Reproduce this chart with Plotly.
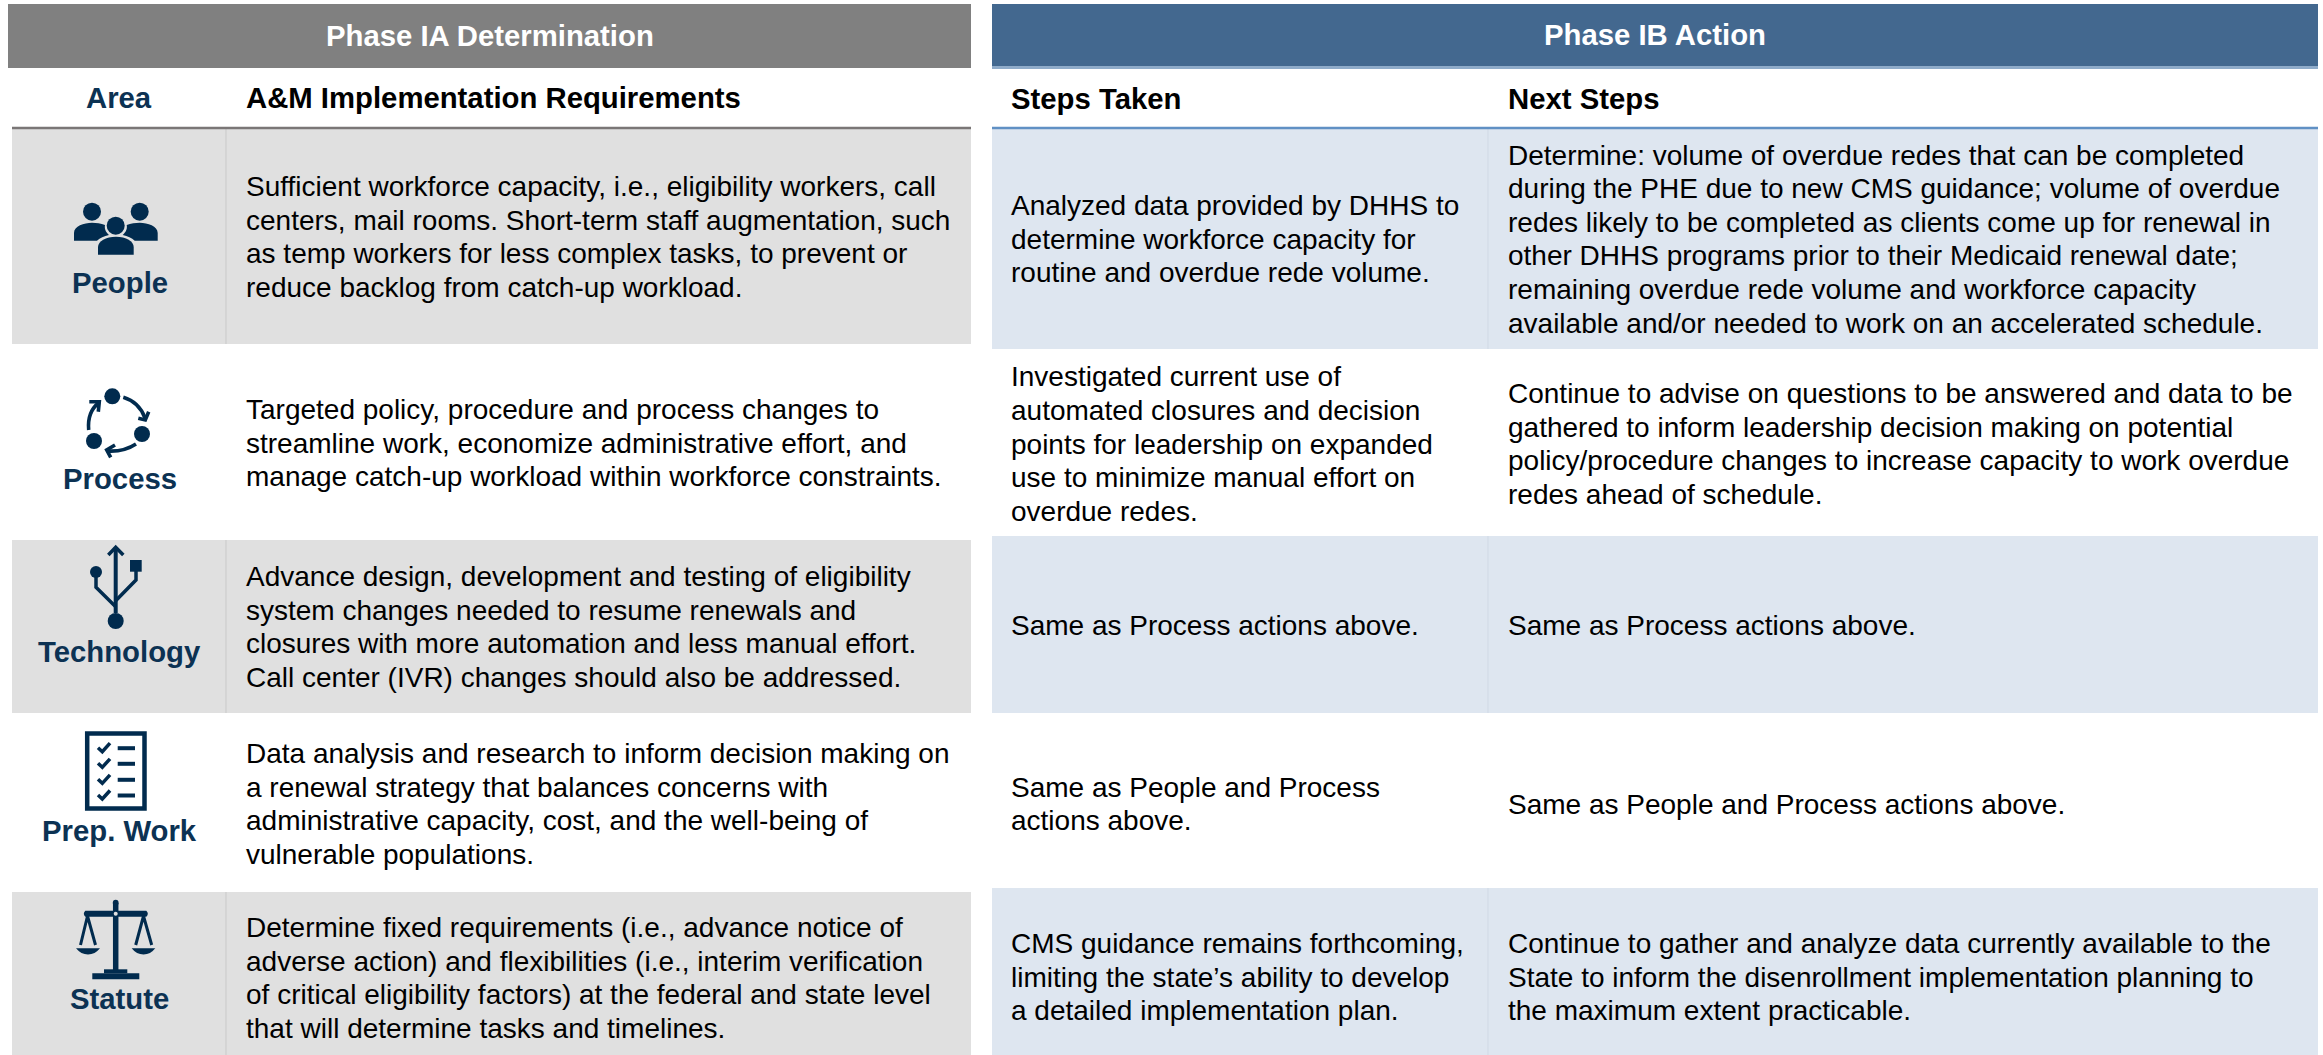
import plotly.graph_objects as go

# ---------- content ----------
phase_titles = ["Phase IA Determination", "Phase IB Action"]
column_heads = ["Area", "A&M Implementation Requirements", "Steps Taken", "Next Steps"]
areas = ["People", "Process", "Technology", "Prep. Work", "Statute"]
requirements = [
    "Sufficient workforce capacity, i.e., eligibility workers, call<br>centers, mail rooms. Short-term staff augmentation, such<br>as temp workers for less complex tasks, to prevent or<br>reduce backlog from catch-up workload.",
    "Targeted policy, procedure and process changes to<br>streamline work, economize administrative effort, and<br>manage catch-up workload within workforce constraints.",
    "Advance design, development and testing of eligibility<br>system changes needed to resume renewals and<br>closures with more automation and less manual effort.<br>Call center (IVR) changes should also be addressed.",
    "Data analysis and research to inform decision making on<br>a renewal strategy that balances concerns with<br>administrative capacity, cost, and the well-being of<br>vulnerable populations.",
    "Determine fixed requirements (i.e., advance notice of<br>adverse action) and flexibilities (i.e., interim verification<br>of critical eligibility factors) at the federal and state level<br>that will determine tasks and timelines.",
]
steps_taken = [
    "Analyzed data provided by DHHS to<br>determine workforce capacity for<br>routine and overdue rede volume.",
    "Investigated current use of<br>automated closures and decision<br>points for leadership on expanded<br>use to minimize manual effort on<br>overdue redes.",
    "Same as Process actions above.",
    "Same as People and Process<br>actions above.",
    "CMS guidance remains forthcoming,<br>limiting the state\u2019s ability to develop<br>a detailed implementation plan.",
]
next_steps = [
    "Determine: volume of overdue redes that can be completed<br>during the PHE due to new CMS guidance; volume of overdue<br>redes likely to be completed as clients come up for renewal in<br>other DHHS programs prior to their Medicaid renewal date;<br>remaining overdue rede volume and workforce capacity<br>available and/or needed to work on an accelerated schedule.",
    "Continue to advise on questions to be answered and data to be<br>gathered to inform leadership decision making on potential<br>policy/procedure changes to increase capacity to work overdue<br>redes ahead of schedule.",
    "Same as Process actions above.",
    "Same as People and Process actions above.",
    "Continue to gather and analyze data currently available to the<br>State to inform the disenrollment implementation planning to<br>the maximum extent practicable.",
]

# ---------- layout ----------
W, H = 2323, 1055
FONT = "Liberation Sans, Arial, sans-serif"
NAVY = "#012b4e"
LABEL = "#0c3253"
GRAY_ROW = "#e0e0e0"
BLUE_ROW = "#dee6f0"
BODY = 28
BOLD = 29.3
LINE_STEP = 33.6

left_edges = [129, 344, 540, 713, 892, 1055]
right_edges = [129, 349, 536, 713, 888, 1055]
label_y = [282.3, 478.3, 651.3, 830.5, 998.5]
req_y = [237, 443, 627, 804, 978]
step_y = [239, 444, 625, 804, 977]
next_y = [239, 444, 625, 804, 977]
X_REQ, X_STEP, X_NEXT = 245, 1010, 1507

shapes, annotations = [], []


def rect(x0, y0, x1, y1, fill):
    shapes.append(dict(type="rect", xref="x", yref="y", x0=x0, y0=y0, x1=x1, y1=y1,
                       fillcolor=fill, line_width=0, layer="below"))


def line(x0, y0, x1, y1, color, w):
    shapes.append(dict(type="line", xref="x", yref="y", x0=x0, y0=y0, x1=x1, y1=y1,
                       line=dict(color=color, width=w), layer="below"))


def text(x, y, s, size, color="#000000", bold=False, anchor="left"):
    annotations.append(dict(xref="x", yref="y", x=x, y=y, text=f"<b>{s}</b>" if bold else s,
                            showarrow=False, xanchor=anchor, yanchor="middle", align=anchor,
                            font=dict(family=FONT, size=size, color=color), borderpad=0))


def para(x, yc, s):
    parts = s.split("<br>")
    for k, part in enumerate(parts):
        text(x, yc + (k - (len(parts) - 1) / 2) * LINE_STEP, part, BODY)


def fill_path(d, color=NAVY):
    shapes.append(dict(type="path", xref="x", yref="y", path=d, fillcolor=color, line_width=0))


def stroke_path(d, w, color=NAVY):
    shapes.append(dict(type="path", xref="x", yref="y", path=d, fillcolor="rgba(0,0,0,0)",
                       line=dict(color=color, width=w)))


def circle(cx, cy, r, color=NAVY):
    shapes.append(dict(type="circle", xref="x", yref="y", x0=cx - r, y0=cy - r, x1=cx + r, y1=cy + r,
                       fillcolor=color, line_width=0))


# phase bars
rect(8, 4, 971, 68, "#808080")
rect(992, 4, 2318, 66, "#43688f")
rect(992, 66, 2318, 69, "#8fabc9")
text(489.5, 35, phase_titles[0], BOLD, "#ffffff", True, "center")
text(1655, 34.5, phase_titles[1], BOLD, "#ffffff", True, "center")

# column heads
text(119, 97, column_heads[0], BOLD, LABEL, True, "center")
text(X_REQ, 97, column_heads[1], BOLD, "#000000", True)
text(X_STEP, 98, column_heads[2], BOLD, "#000000", True)
text(X_NEXT, 98, column_heads[3], BOLD, "#000000", True)

# rows
for i in range(5):
    if i % 2 == 0:
        rect(12, left_edges[i], 971, left_edges[i + 1], GRAY_ROW)
        line(226, left_edges[i], 226, left_edges[i + 1], "#c9c9c9", 1)
        rect(992, right_edges[i], 2318, right_edges[i + 1], BLUE_ROW)
        line(1488, right_edges[i], 1488, right_edges[i + 1], "#d0d9e5", 1)
    text(119.5, label_y[i], areas[i], BOLD, LABEL, True, "center")
    para(X_REQ, req_y[i], requirements[i])
    para(X_STEP, step_y[i], steps_taken[i])
    para(X_NEXT, next_y[i], next_steps[i])

line(12, 128, 971, 128, "#7a7676", 2.5)
line(992, 128, 2318, 128, "#6090c4", 2.5)

# --- icon: people
circle(92, 211.7, 9)
circle(139.7, 211.7, 9)
circle(115.7, 225.7, 9)
fill_path("M74,240.7 V233 C74,226 84,222.7 92,222.7 C96,222.7 101,223.5 105,225 C104,230 107,233 109,235 C104,236 100,238 97,240.7 Z")
fill_path("M157.7,240.7 V233 C157.7,226 147.7,222.7 139.7,222.7 C135.7,222.7 130.7,223.5 126.7,225 C127.7,230 124.7,233 122.7,235 C127.7,236 131.7,238 134.7,240.7 Z")
fill_path("M98,254.7 V247 C98,241 106,236.7 116,236.7 C126,236.7 133.7,241 133.7,247 V254.7 Z")

# --- icon: process
circle(112.3, 396.3, 8)
circle(142, 434, 8)
circle(94, 441, 8)
stroke_path("M123.3,397.3 Q139,402 145,418", 3.6)
stroke_path("M138.3,418.3 L145.3,420 L148.7,411.7", 3.6)
stroke_path("M136,444 Q124,452 107.3,451", 3.6)
stroke_path("M115,445 L106.7,450 L110.7,457.3", 3.6)
stroke_path("M88.7,430 Q87,412 99,402.5", 3.6)
stroke_path("M89.3,401.7 L99.3,401.7 L98.3,411.7", 3.6)

# --- icon: technology
line(115.7, 547.3, 115.7, 613, NAVY, 4)
stroke_path("M108.3,555 L115.7,547.3 L123.3,555", 3.5)
circle(115.7, 621, 8)
circle(96, 572, 6)
stroke_path("M96,577 L96,587.3 L115.7,606.7", 3.5)
fill_path("M130,560 H141.7 V571.7 H130 Z")
stroke_path("M136,571 L136,580 L115.7,600.7", 3.5)

# --- icon: preparation checklist
stroke_path("M87.2,733.5 H144.5 V808.5 H87.2 Z", 4.5)
for cy in [747.7, 763.3, 779.3, 795]:
    stroke_path(f"M98,{cy} L102.3,{cy + 4} L110,{cy - 4.5}", 3.5)
    line(117.7, cy + 0.5, 135, cy + 0.5, NAVY, 4)

# --- icon: scales
line(115.7, 903, 115.7, 970, NAVY, 5.5)
circle(115.7, 902.7, 2.9)
fill_path("M85.3,910.7 H146.3 Q149.3,913.7 146.3,916.7 H85.3 Q82.3,913.7 85.3,910.7 Z")
circle(115.7, 913.7, 2, "#e0e0e0")
fill_path("M104,969.3 H127.3 V973.3 H104 Z")
fill_path("M92.3,973.3 H139.3 V979.3 H92.3 Z")
stroke_path("M87.5,916 L80.5,945 M87.5,916 L95.5,945", 3)
stroke_path("M143.5,916 L135.7,945 M143.5,916 L151.7,945", 3)
fill_path("M76,948.3 H100 Q95,954.5 88,954.5 Q81,954.5 76,948.3 Z")
fill_path("M131.7,948.3 H155.3 Q150.5,954.5 143.5,954.5 Q136.5,954.5 131.7,948.3 Z")

fig = go.Figure(go.Scatter(x=[0, W], y=[0, H], mode="markers", marker=dict(opacity=0), hoverinfo="skip", showlegend=False))
fig.update_layout(
    width=W, height=H, margin=dict(l=0, r=0, t=0, b=0),
    paper_bgcolor="#ffffff", plot_bgcolor="#ffffff",
    xaxis=dict(range=[0, W], visible=False, fixedrange=True),
    yaxis=dict(range=[H, 0], visible=False, fixedrange=True),
    shapes=shapes, annotations=annotations, showlegend=False,
)
fig.write_html("out.html", config=dict(displayModeBar=False),
               post_script="document.body.style.margin='0';document.body.style.overflow='hidden';")
